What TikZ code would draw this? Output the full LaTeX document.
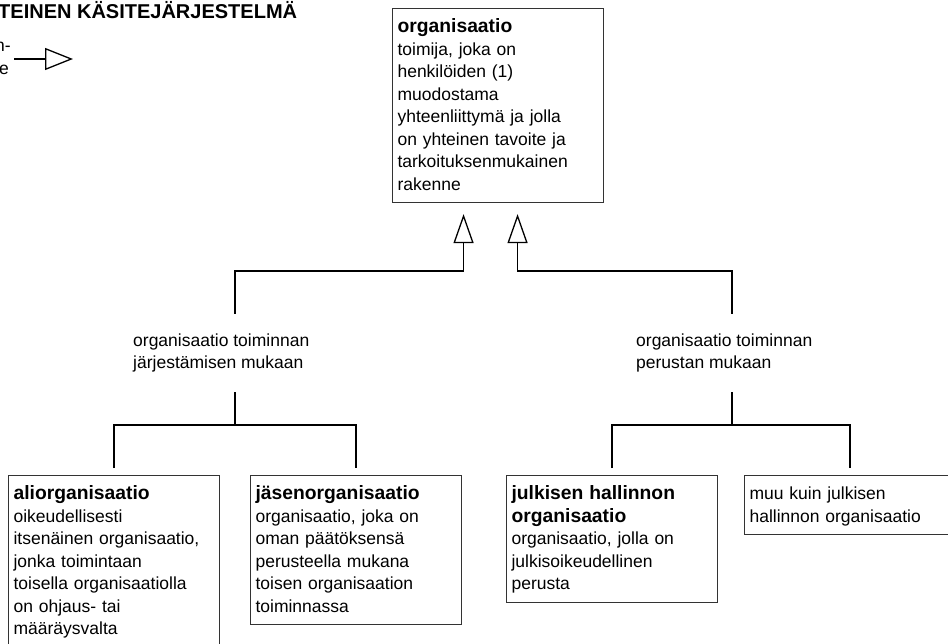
\documentclass[tikz,border=0pt]{standalone}
\usepackage{fontspec}
\setmainfont{Liberation Sans}
\usetikzlibrary{arrows.meta}

\tikzset{
    concept/.style={draw=black!80, line width=1.1pt, anchor=north west,
        text width=201pt, align=left, inner xsep=5pt, inner ysep=0pt,
        font=\fontsize{17.5}{22.5}\selectfont},
    facet/.style={anchor=west, inner sep=0pt, align=left,
        minimum height=78pt, font=\fontsize{17.5}{22.5}\selectfont},
    link/.style={line width=1.3pt},
    genlink/.style={link, -{Triangle[open, length=29pt, width=20pt, line width=1.3pt]}},
}
\newcommand{\term}[1]{{\fontsize{19.3}{22.5}\selectfont\bfseries #1}}
\newcommand{\firstline}{\rule{0pt}{24pt}}
\newcommand{\lastline}{\rule[-12.5pt]{0pt}{12.5pt}}

\begin{document}
\begin{tikzpicture}[x=1pt,y=-1pt]
        \useasboundingbox (0,0) rectangle (948,643);
        %% Title and legend
        \node[anchor=base west, inner sep=0pt, font=\fontsize{20}{22}\selectfont\bfseries]
            (title) at (-2,18) {TEINEN KÄSITEJÄRJESTELMÄ};
        \node[anchor=base east, inner sep=0pt, font=\fontsize{17.5}{22.5}\selectfont]
            (legtop) at (11,51) {n-};
        \node[anchor=base east, inner sep=0pt, font=\fontsize{17.5}{22.5}\selectfont]
            (legbot) at (9,74) {e};
        \coordinate (legfrom) at (14,59);
        \coordinate (legto) at (73,59);
        \draw[link, -{Triangle[open, length=28pt, width=22pt, line width=1.3pt]}]
            (legfrom) -- (legto);
        %% Superordinate concept
        \node[concept] (org) at (392,8)
            {\firstline\term{organisaatio}\\ toimija, joka on\\ henkilöiden (1)\\
             muodostama\\ yhteenliittymä ja jolla\\ on yhteinen tavoite ja\\
             tarkoituksenmukainen\\ rakenne\lastline};
        %% Criteria of subdivision
        \node[facet] (bymanner) at (133,353)
            {organisaatio toiminnan\\ järjestämisen mukaan};
        \node[facet] (bybasis) at (636,353)
            {organisaatio toiminnan\\ perustan mukaan};
        %% Subordinate concepts
        \node[concept] (sub) at (8,475)
            {\firstline\term{aliorganisaatio}\\ oikeudellisesti\\
             itsenäinen organisaatio,\\ jonka toimintaan\\
             toisella organisaatiolla\\ on ohjaus- tai\\ määräysvalta\lastline};
        \node[concept] (mem) at (250,475)
            {\firstline\term{jäsenorganisaatio}\\ organisaatio, joka on\\
             oman päätöksensä\\ perusteella mukana\\ toisen organisaation\\
             toiminnassa\lastline};
        \node[concept] (pub) at (506,475)
            {\firstline\term{julkisen hallinnon}\\ \term{organisaatio}\\
             organisaatio, jolla on\\ julkisoikeudellinen\\ perusta\lastline};
        \node[concept] (oth) at (744,475)
            {\firstline muu kuin julkisen\\ hallinnon organisaatio\lastline};
        %% Generic relations
        \coordinate (jl) at (235,271);
        \coordinate (jr) at (732,271);
        \draw[genlink, shorten >=11pt] (bymanner.north -| jl) -- (jl)
            -| ([xshift=-34.5pt]org.south);
        \draw[genlink, shorten >=11pt] (bybasis.north -| jr) -- (jr)
            -| ([xshift=19.5pt]org.south);
        %% Brackets
        \coordinate (bl) at (235,425);
        \coordinate (br) at (732,425);
        \draw[link] (bymanner.south -| bl) -- (bl);
        \draw[link] (bybasis.south -| br) -- (br);
        \draw[link] ([yshift=7pt]sub.north) |- (bl) -| ([yshift=7pt]mem.north);
        \draw[link] ([yshift=7pt]pub.north) |- (br) -| ([yshift=7pt]oth.north);
\end{tikzpicture}
\end{document}
